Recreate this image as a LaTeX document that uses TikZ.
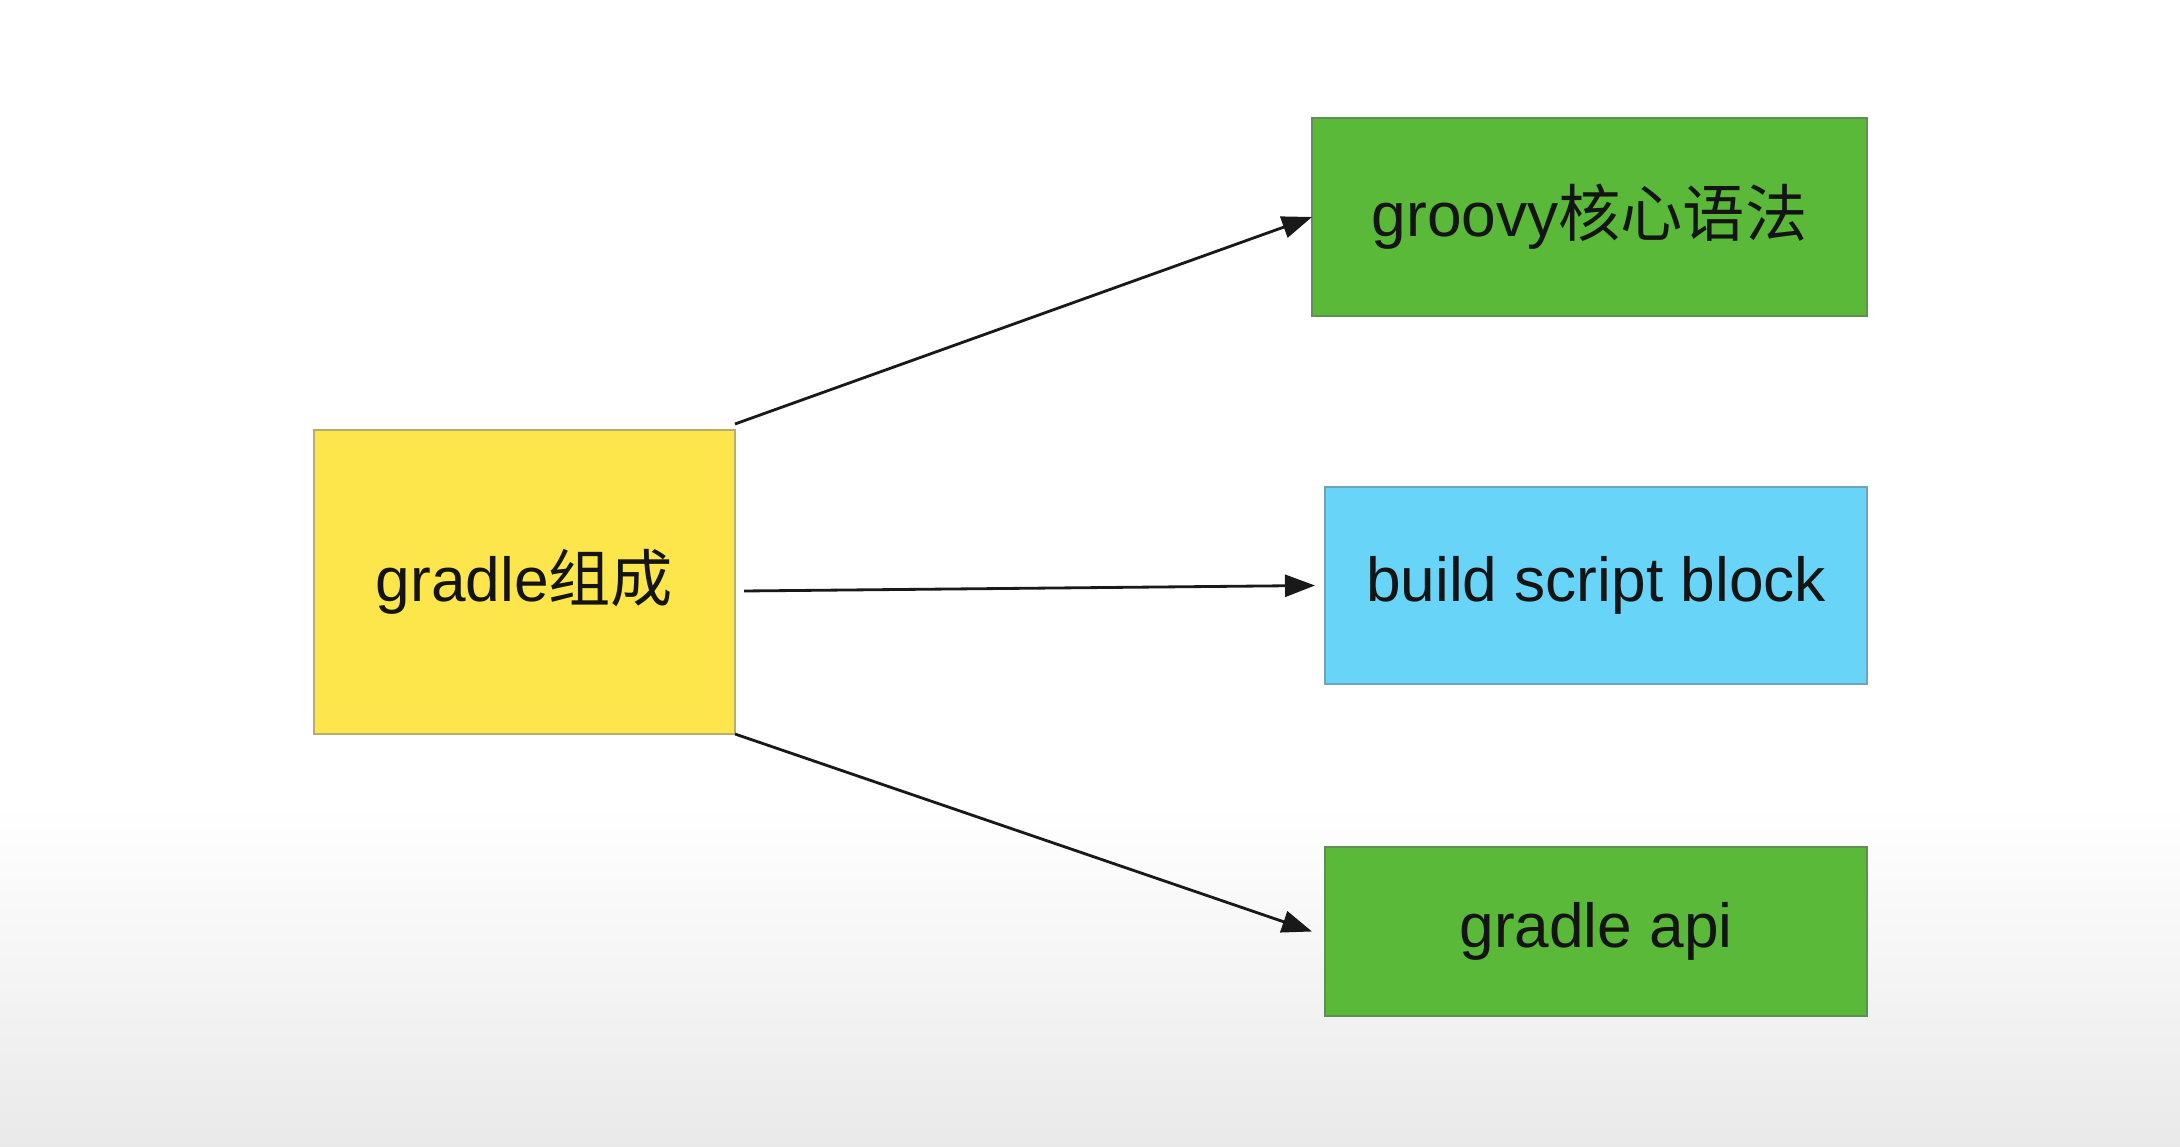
\documentclass[tikz,border=0pt]{standalone}
\usepackage{fontspec}
\usepackage{xcolor}
\setmainfont{Liberation Sans}
\newfontfamily\cjk{Noto Sans CJK SC}
\usetikzlibrary{positioning,arrows.meta}

\definecolor{boxyellow}{HTML}{FDE64B}
\definecolor{boxgreen}{HTML}{5AB939}
\definecolor{boxblue}{HTML}{68D5F8}
\definecolor{edgeyellow}{HTML}{B8AC6E}
\definecolor{edgegreen}{HTML}{5E8F55}
\definecolor{edgeblue}{HTML}{6FA3BA}

\begin{document}
\begin{tikzpicture}[every node/.style={draw, line width=0.6pt, inner sep=0pt, outer sep=0pt, text=black!92}]
  \tikzset{
    part/.style={rectangle, minimum width=5.42cm, minimum height=1.97cm, text centered, font=\fontsize{17.7}{22}\selectfont},
    arrow/.style={-{Triangle[length=0.3cm, width=0.22cm]}, line width=0.8pt, black!90}
  }

  % background
  \fill[white] (0,0) rectangle (21.8,11.46);
  \shade[top color=white, bottom color=gray!17] (0,0) rectangle (21.8,3.4);
  \useasboundingbox (0,0) rectangle (21.8,11.46);

  \node[part, fill=boxyellow, draw=edgeyellow, minimum width=4.21cm, minimum height=3.04cm] (gradle) at (5.245,5.64) {gradle{\cjk 组成}};
  \node[part, fill=boxgreen, draw=edgegreen, minimum width=5.55cm, minimum height=1.98cm] (groovy) at (15.895,9.29) {groovy{\cjk 核心语法}};
  \node[part, fill=boxblue, draw=edgeblue] (build) at (15.96,5.605) {build script block};
  \node[part, fill=boxgreen, draw=edgegreen, minimum height=1.69cm] (api) at (15.96,2.145) {gradle api};

  \draw[arrow] ([yshift=0.06cm]gradle.north east) -- (groovy.west);
  \draw[arrow] ([xshift=0.09cm,yshift=-0.09cm]gradle.east) -- ([xshift=-0.1cm]build.west);
  \draw[arrow] (gradle.south east) -- ([xshift=-0.13cm]api.west);
\end{tikzpicture}
\end{document}
